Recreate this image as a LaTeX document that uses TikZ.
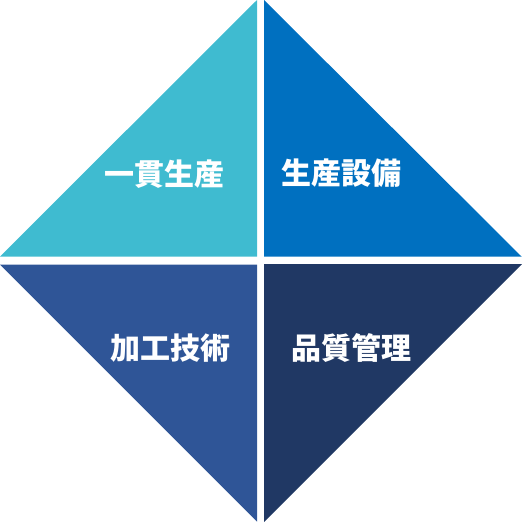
\documentclass[tikz,border=0pt]{standalone}
\usepackage{fontspec}
\newfontfamily\cjk{Noto Sans CJK JP}
\definecolor{teal}{HTML}{3FBBD0}
\definecolor{blueA}{HTML}{0070C0}
\definecolor{blueB}{HTML}{2F5597}
\definecolor{blueC}{HTML}{203864}
\tikzset{
  label/.style={text=white, font=\cjk\bfseries\fontsize{30}{32}\selectfont, inner sep=0pt}
}
\begin{document}
\begin{tikzpicture}[x=1pt,y=-1pt]
            % Fix the frame
            \useasboundingbox (0,0) rectangle (522,522);

            % Draw the four triangles
            \fill[teal] (0,256.5) -- (257,256.5) -- (257,0) -- cycle;
            \fill[blueA] (264,0) -- (264,256.5) -- (521.5,256.5) -- cycle;
            \fill[blueB] (0,264.5) -- (257,264.5) -- (257,521.5) -- cycle;
            \fill[blueC] (264,264) -- (522,264) -- (264,522) -- cycle;

            % Put the labels inside
            \node[label] (ikkan) at (164, 174) {一貫生産};
            \node[label] (setsubi) at (341.5, 173) {生産設備};
            \node[label] (kakou) at (170, 348) {加工技術};
            \node[label] (hinshitsu) at (351, 348) {品質管理};

        \end{tikzpicture}
\end{document}
